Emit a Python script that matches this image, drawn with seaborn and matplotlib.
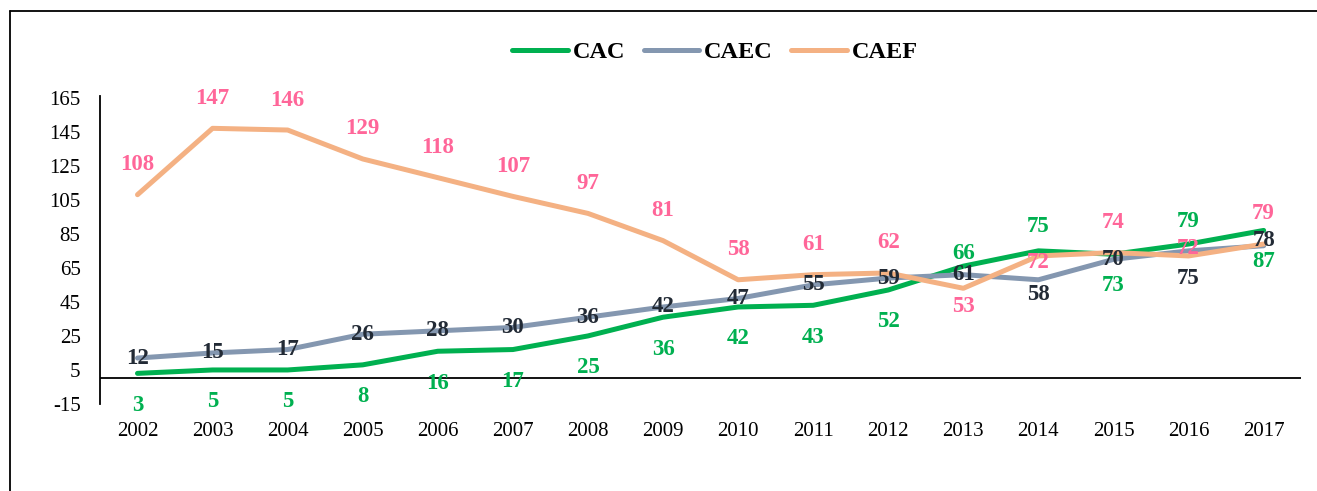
import matplotlib
matplotlib.use("Agg")
import matplotlib.pyplot as plt
from matplotlib.lines import Line2D
import seaborn as sns
import pandas as pd

years = list(range(2002, 2018))
cac = [3, 5, 5, 8, 16, 17, 25, 36, 42, 43, 52, 66, 75, 73, 79, 87]
caec = [12, 15, 17, 26, 28, 30, 36, 42, 47, 55, 59, 61, 58, 70, 75, 78]
caef = [108, 147, 146, 129, 118, 107, 97, 81, 58, 61, 62, 53, 72, 74, 72, 79]
series_names = ["CAC", "CAEC", "CAEF"]

# label offsets in pixels (up = positive)
cac_off = [-32] * 11 + [13, 24, -31, 23, -31]
caec_off = [0] * 12 + [-15, 0, -28, 5]
caef_off = [30] * 11 + [-18, -7, 30, 7, 31]

line_colors = {"CAC": "#00B050", "CAEC": "#8497B0", "CAEF": "#F4B183"}
text_colors = {"CAC": "#00B050", "CAEC": "#222A35", "CAEF": "#FF6699"}

df = pd.DataFrame({
    "year": years * 3,
    "value": cac + caec + caef,
    "series": ["CAC"] * 16 + ["CAEC"] * 16 + ["CAEF"] * 16,
})

sns.set_style("white")
plt.rcParams["font.family"] = ["Liberation Serif", "DejaVu Serif"]
plt.rcParams["axes.unicode_minus"] = False
plt.rcParams["text.color"] = "black"
plt.rcParams["xtick.color"] = "black"
plt.rcParams["ytick.color"] = "black"

fig = plt.figure(figsize=(13.17, 4.91), dpi=100)
ax = fig.add_axes([0.0759, 0.1772, 0.9121, 0.6273])

sns.lineplot(data=df, x="year", y="value", hue="series", palette=line_colors,
             hue_order=series_names, linewidth=3.6, ax=ax, legend=False)

ax.set_xlim(2001.5, 2017.5)
ax.set_ylim(-15, 166)
ax.set_yticks(range(-15, 166, 20))
ax.set_xticks(years)
ax.tick_params(axis="y", length=0, pad=14, labelsize=15)
ax.tick_params(axis="x", length=0, pad=13, labelsize=15)
ax.set_xlabel("")
ax.set_ylabel("")
for s in ["top", "right", "bottom"]:
    ax.spines[s].set_visible(False)
ax.spines["left"].set_color("black")
ax.spines["left"].set_linewidth(1.3)
ax.axhline(0, color="black", linewidth=1.3, zorder=1)

for name, vals, offs in [("CAC", cac, cac_off), ("CAEC", caec, caec_off), ("CAEF", caef, caef_off)]:
    for yr, v, o in zip(years, vals, offs):
        ax.annotate(str(v), (yr, v), xytext=(0, o), textcoords="offset pixels",
                    ha="center", va="center", fontsize=16.5, fontweight="bold",
                    color=text_colors[name], zorder=5)

handles = [Line2D([0], [0], color=line_colors[n], linewidth=3.6, solid_capstyle="round")
           for n in series_names]
fig.legend(handles, series_names, loc="center", bbox_to_anchor=(0.543, 0.894),
           ncol=3, frameon=False, handlelength=2.3, handletextpad=0.2,
           columnspacing=0.75, prop={"weight": "bold", "size": 17.5})

# outer frame (left and top edges only)
fig.add_artist(Line2D([0.0076, 0.0076], [0, 0.977], color="black", linewidth=1.3,
                      transform=fig.transFigure))
fig.add_artist(Line2D([0.0076, 1.0], [0.977, 0.977], color="black", linewidth=1.3,
                      transform=fig.transFigure))

fig.savefig("out.png", dpi=100)
